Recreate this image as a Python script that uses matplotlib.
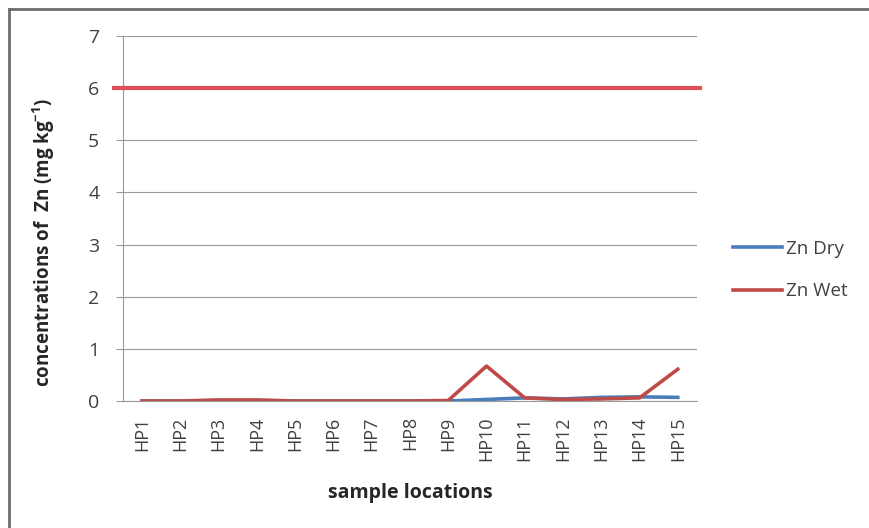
import matplotlib
matplotlib.use("Agg")
import matplotlib.pyplot as plt
from matplotlib.lines import Line2D

# ---------------------------------------
# Data
# ---------------------------------------
locations = ["HP%d" % i for i in range(1, 16)]
zn_dry = [0.0, 0.0, 0.01, 0.01, 0.0, 0.0, 0.0, 0.0, 0.0, 0.03, 0.06, 0.04, 0.07, 0.08, 0.07]
zn_wet = [0.0, 0.0, 0.02, 0.02, 0.0, 0.0, 0.0, 0.0, 0.01, 0.67, 0.06, 0.03, 0.04, 0.06, 0.61]
zn_limit = 6
y_ticks = [0, 1, 2, 3, 4, 5, 6, 7]

plt.rcParams['font.family'] = ['Open Sans', 'DejaVu Sans']

fig = plt.figure(figsize=(8.69, 5.28), dpi=100)
ax = fig.add_axes([0.1415, 0.2405, 0.6605, 0.6913])

x = list(range(len(locations)))
ax.set_xlim(-0.5, len(locations) - 0.5)
ax.set_ylim(0, 7)

# gridlines
ax.set_yticks(y_ticks)
ax.grid(axis='y', color='#9a9a9a', linewidth=0.8)
ax.set_axisbelow(True)

# series
ax.plot(x, zn_dry, color='#4a7ebb', linewidth=2.6, label='Zn Dry', zorder=3)
ax.plot(x, zn_wet, color='#be4b48', linewidth=2.6, label='Zn Wet', zorder=4)

# limit line, drawn a bit past the plot area
ax.plot([-0.79, len(locations) - 0.37], [zn_limit, zn_limit], color='#de5056',
        linewidth=3, solid_capstyle='butt', clip_on=False, zorder=5)

ax.set_xticks(x)
ax.set_xticklabels(locations, rotation=90, fontsize=13, color='#404040')
ax.tick_params(axis='x', length=0, pad=11)
ax.tick_params(axis='y', length=5, width=0.8, color='#9a9a9a', labelsize=14,
               labelcolor='#404040', pad=12)

for s in ['top', 'right']:
    ax.spines[s].set_visible(False)
ax.spines['left'].set_color('#9a9a9a')
ax.spines['bottom'].set_color('#9a9a9a')
ax.spines['left'].set_linewidth(0.8)
ax.spines['bottom'].set_linewidth(0.8)

# axis titles
fig.text(44 / 869, 1 - 243 / 528, "concentrations of  Zn (mg kg$^{\\mathregular{-1}}$)",
         rotation=90, ha='center', va='center', fontsize=13.5, fontweight='bold',
         color='#262626')
fig.text(410 / 869, 1 - 493 / 528, "sample locations", ha='center', va='center',
         fontsize=14, fontweight='bold', color='#262626')

# legend
leg = ax.legend(loc='center left', bbox_to_anchor=(733 / 869, 1 - 270 / 528),
                bbox_transform=fig.transFigure, frameon=False, fontsize=13.5,
                handlelength=2.6, handletextpad=0.2, labelspacing=1.3,
                borderpad=0, borderaxespad=0)
for t in leg.get_texts():
    t.set_color('#404040')

# outer frame (top and left edges visible)
fig.add_artist(Line2D([9 / 869, 1.0], [1 - 9 / 528, 1 - 9 / 528],
                      transform=fig.transFigure, color='#6e6e6e', linewidth=2))
fig.add_artist(Line2D([9 / 869, 9 / 869], [0.0, 1 - 9 / 528],
                      transform=fig.transFigure, color='#6e6e6e', linewidth=2))

fig.savefig("out.png", dpi=100)
